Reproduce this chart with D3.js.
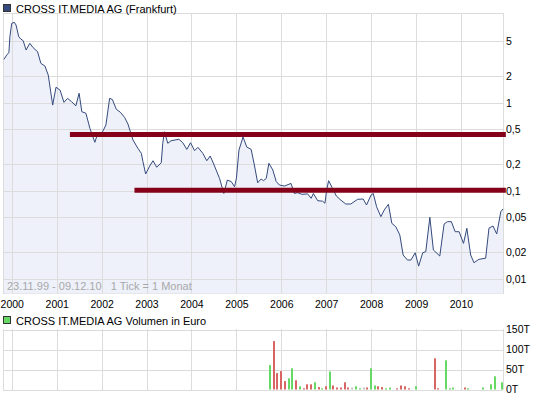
<!DOCTYPE html>
<html>
<head>
<meta charset="utf-8">
<script src="https://cdn.jsdelivr.net/npm/d3@7"></script>
<style>
  body { margin: 0; background: #fff; }
  svg { display: block; font-family: "Liberation Sans", Arial, sans-serif; font-size: 10.5px; }
</style>
</head>
<body>
<svg id="chart" width="545" height="398"></svg>
<script>
const TITLE = 'CROSS IT.MEDIA AG (Frankfurt)';
const VOLUME_TITLE = 'CROSS IT.MEDIA AG Volumen in Euro';
const FOOTER = '23.11.99 - 09.12.10   1 Tick = 1 Monat';

// closing prices in EUR
const prices = [
  ['1999-10-30', 3.11], ['1999-11-25', 3.55], ['1999-12-09', 3.70], ['1999-12-17', 5.62],
  ['2000-01-01', 7.98], ['2000-01-22', 8.20], ['2000-02-05', 7.64], ['2000-02-27', 5.62],
  ['2000-03-15', 5.29], ['2000-04-03', 5.07], ['2000-04-27', 3.97], ['2000-05-27', 4.73],
  ['2000-06-23', 4.22], ['2000-07-29', 3.80], ['2000-08-25', 2.80], ['2000-09-27', 2.61],
  ['2000-10-24', 2.06], ['2000-11-13', 1.33], ['2000-11-29', 0.94], ['2000-12-26', 1.50],
  ['2001-01-28', 1.39], ['2001-03-01', 1.01], ['2001-03-30', 1.12], ['2001-05-01', 1.03],
  ['2001-06-05', 0.92], ['2001-07-02', 1.28], ['2001-07-24', 0.79], ['2001-08-26', 0.76],
  ['2001-09-28', 0.51], ['2001-11-07', 0.355], ['2001-11-26', 0.43], ['2002-01-09', 0.468],
  ['2002-02-05', 0.558], ['2002-03-07', 1.12], ['2002-03-29', 1.09], ['2002-05-01', 0.84],
  ['2002-06-02', 0.78], ['2002-07-07', 0.68], ['2002-08-03', 0.573], ['2002-09-13', 0.377],
  ['2002-10-23', 0.303], ['2002-11-20', 0.266], ['2002-12-03', 0.214], ['2002-12-25', 0.155],
  ['2003-01-27', 0.191], ['2003-02-23', 0.219], ['2003-03-25', 0.185], ['2003-05-01', 0.208],
  ['2003-05-13', 0.346], ['2003-05-27', 0.468], ['2003-06-23', 0.346], ['2003-07-20', 0.37],
  ['2003-09-21', 0.384], ['2003-10-23', 0.351], ['2003-11-25', 0.295], ['2003-12-25', 0.351],
  ['2004-01-27', 0.285], ['2004-02-23', 0.311], ['2004-04-03', 0.266], ['2004-05-05', 0.219],
  ['2004-06-02', 0.248], ['2004-07-07', 0.191], ['2004-08-17', 0.138], ['2004-09-21', 0.093],
  ['2004-10-19', 0.132], ['2004-11-20', 0.127], ['2004-12-17', 0.111], ['2005-01-01', 0.138],
  ['2005-01-22', 0.29], ['2005-02-24', 0.408], ['2005-03-26', 0.314], ['2005-05-01', 0.295],
  ['2005-05-27', 0.196], ['2005-06-23', 0.123], ['2005-07-21', 0.136], ['2005-08-09', 0.13],
  ['2005-09-01', 0.138], ['2005-09-22', 0.205], ['2005-10-24', 0.172], ['2005-11-21', 0.127],
  ['2005-12-17', 0.116], ['2006-01-27', 0.113], ['2006-03-21', 0.121], ['2006-04-17', 0.093],
  ['2006-05-13', 0.095], ['2006-06-18', 0.091], ['2006-08-03', 0.092], ['2006-09-01', 0.082],
  ['2006-09-19', 0.093], ['2006-10-24', 0.077], ['2006-12-03', 0.076], ['2006-12-22', 0.072],
  ['2007-01-05', 0.102], ['2007-01-21', 0.13], ['2007-02-18', 0.109], ['2007-03-25', 0.087],
  ['2007-05-01', 0.078], ['2007-06-10', 0.0706], ['2007-07-20', 0.0706], ['2007-09-13', 0.0798],
  ['2007-10-29', 0.0805], ['2007-11-25', 0.0688], ['2008-01-01', 0.0893], ['2008-01-19', 0.0929],
  ['2008-02-15', 0.0658], ['2008-03-21', 0.0507], ['2008-04-17', 0.0604], ['2008-05-21', 0.07],
  ['2008-06-18', 0.0426], ['2008-07-20', 0.039], ['2008-08-22', 0.0314], ['2008-09-18', 0.0186],
  ['2008-10-23', 0.0163], ['2008-11-20', 0.0163], ['2008-12-25', 0.0197], ['2009-01-22', 0.0139],
  ['2009-02-24', 0.0197], ['2009-03-21', 0.0203], ['2009-04-23', 0.0499], ['2009-05-22', 0.0212],
  ['2009-07-13', 0.0181], ['2009-08-17', 0.0418], ['2009-09-13', 0.0445], ['2009-10-15', 0.0445],
  ['2009-11-15', 0.0342], ['2009-12-17', 0.0342], ['2010-01-22', 0.0252], ['2010-02-18', 0.0374],
  ['2010-03-21', 0.0186], ['2010-04-17', 0.0152], ['2010-05-27', 0.0166], ['2010-07-21', 0.0171],
  ['2010-08-17', 0.0376], ['2010-09-19', 0.0397], ['2010-10-19', 0.0322], ['2010-11-21', 0.0577],
  ['2010-12-09', 0.062]
];

// horizontal resistance / support lines
const levelStarts = ['2001-04-18', '2002-09-25'];
const levelValues = [0.435, 0.101];
const LEVEL_END = '2011-01-01';

// monthly volume in EUR, trend: up / down / flat
const volumeMonths = [
  '2005-10', '2005-11', '2005-12', '2006-01', '2006-02', '2006-03', '2006-04', '2006-05',
  '2006-06', '2006-07', '2006-08', '2006-09', '2006-10', '2006-11', '2006-12', '2007-01',
  '2007-02', '2007-03', '2007-04', '2007-05', '2007-06', '2007-07', '2007-08', '2007-09',
  '2007-10', '2007-11', '2007-12', '2008-01', '2008-02', '2008-03', '2008-04', '2008-05',
  '2008-06', '2008-08', '2008-09', '2008-10', '2008-11', '2009-01', '2009-06', '2009-07',
  '2009-09', '2009-10', '2009-11', '2010-02', '2010-03', '2010-07', '2010-09', '2010-10',
  '2010-12'
];
const volumeValues = [
  61000, 121000, 41000, 46000, 21000, 28000, 53000, 23000,
  8000, 3000, 13000, 13000, 18000, 6000, 3000, 8000,
  45000, 10000, 5000, 5000, 18000, 5000, 5000, 8000,
  3000, 5000, 5000, 53000, 10000, 8000, 6000, 3000,
  5000, 3000, 10000, 8000, 3000, 8000, 78000, 3000,
  73000, 3000, 5000, 5000, 3000, 5000, 13000, 33000,
  18000
];
const volumeTrend = [
  'up', 'down', 'down', 'down', 'down', 'up', 'up', 'down',
  'up', 'down', 'down', 'down', 'up', 'down', 'up', 'down',
  'up', 'down', 'down', 'down', 'down', 'down', 'flat', 'up',
  'up', 'flat', 'down', 'up', 'up', 'down', 'down', 'up',
  'up', 'down', 'down', 'down', 'down', 'up', 'down', 'down',
  'up', 'up', 'up', 'down', 'up', 'up', 'up', 'up',
  'up'
];

const priceTicks = [5, 2, 1, 0.5, 0.2, 0.1, 0.05, 0.02, 0.01];
const volumeTicks = [0, 50000, 100000, 150000];

const parseDay = d3.timeParse('%Y-%m-%d');
const parseMonth = d3.timeParse('%Y-%m');
const GRID = '#dcdcdc';
const TREND_COLOR = { up: '#66d866', down: '#d96464', flat: '#c4c4c4' };

const svg = d3.select('#chart');

const LEFT = 3, RIGHT = 503;
const x = d3.scaleTime()
  .domain([parseDay('1999-10-22'), parseDay('2010-12-09')])
  .range([LEFT, RIGHT]);
const y = d3.scaleLog().domain([0.00679, 10.46]).range([293.5, 13]);
const yVol = d3.scaleLinear().domain([0, 150000]).range([389.5, 329.5]);

const years = d3.timeYear.range(parseDay('2000-01-01'), parseDay('2011-01-01'));
const fmtComma = d => String(d).replace('.', ',');

// ---- price panel
const main = svg.append('g');

main.append('rect')
  .attr('x', LEFT + 0.5).attr('y', 13.5)
  .attr('width', RIGHT - LEFT).attr('height', 280)
  .attr('fill', '#fff').attr('stroke', GRID);

const series = prices.map(([d, v]) => ({ date: parseDay(d), value: v }));

main.append('path')
  .datum(series)
  .attr('fill', '#eef1fa')
  .attr('d', d3.area().x(d => x(d.date)).y0(y.range()[0]).y1(d => y(d.value)));

main.selectAll('.hgrid')
  .data(priceTicks)
  .join('line')
  .attr('class', 'hgrid')
  .attr('x1', LEFT).attr('x2', RIGHT)
  .attr('y1', d => Math.round(y(d)) + 0.5).attr('y2', d => Math.round(y(d)) + 0.5)
  .attr('stroke', GRID);

main.selectAll('.vgrid')
  .data(years)
  .join('line')
  .attr('class', 'vgrid')
  .attr('x1', d => Math.round(x(d)) + 0.5).attr('x2', d => Math.round(x(d)) + 0.5)
  .attr('y1', 13).attr('y2', 293.5)
  .attr('stroke', GRID);

main.append('text')
  .attr('x', 7).attr('y', 290)
  .attr('fill', '#a8a8a8')
  .style('font-size', '11px')
  .style('white-space', 'pre')
  .text(FOOTER);

main.append('path')
  .datum(series)
  .attr('fill', 'none')
  .attr('stroke', '#344a7c')
  .attr('stroke-width', 1)
  .attr('d', d3.line().x(d => x(d.date)).y(d => y(d.value)));

main.selectAll('.level')
  .data(levelValues.map((v, i) => ({ from: parseDay(levelStarts[i]), value: v })))
  .join('line')
  .attr('class', 'level')
  .attr('x1', d => x(d.from)).attr('x2', x(parseDay(LEVEL_END)))
  .attr('y1', d => y(d.value)).attr('y2', d => y(d.value))
  .attr('stroke', '#850018')
  .attr('stroke-width', 5);

main.append('g')
  .attr('transform', `translate(${RIGHT + 3},0)`)
  .call(d3.axisRight(y).tickValues(priceTicks).tickSize(0).tickPadding(0).tickFormat(fmtComma))
  .call(g => g.select('.domain').remove())
  .call(g => g.selectAll('text').attr('fill', '#000').style('font-size', '10.5px')
    .style('font-family', '"Liberation Sans", Arial, sans-serif'));

main.append('g')
  .attr('transform', 'translate(0,294)')
  .call(d3.axisBottom(x).tickValues(years).tickSize(0).tickPadding(7).tickFormat(d3.timeFormat('%Y')))
  .call(g => g.select('.domain').remove())
  .call(g => g.selectAll('text').attr('fill', '#000').style('font-size', '10.5px')
    .style('font-family', '"Liberation Sans", Arial, sans-serif'));

// ---- legends
const legend = (yPos, color, label) => {
  svg.append('rect')
    .attr('x', 3.5).attr('y', yPos - 8.5)
    .attr('width', 7).attr('height', 7)
    .attr('fill', color).attr('stroke', '#333');
  svg.append('text')
    .attr('x', 16).attr('y', yPos)
    .attr('fill', '#000')
    .style('font-size', '11px')
    .text(label);
};
legend(13, '#344a7c', TITLE);
legend(325, '#66d866', VOLUME_TITLE);

// ---- volume panel
const vol = svg.append('g');

vol.selectAll('.vhgrid')
  .data(volumeTicks)
  .join('line')
  .attr('class', 'vhgrid')
  .attr('x1', LEFT).attr('x2', RIGHT)
  .attr('y1', d => Math.round(yVol(d)) + 0.5).attr('y2', d => Math.round(yVol(d)) + 0.5)
  .attr('stroke', GRID);

vol.selectAll('.vvgrid')
  .data([parseDay('1999-10-22')].concat(years, [parseDay('2010-12-09')]))
  .join('line')
  .attr('class', 'vvgrid')
  .attr('x1', d => Math.round(x(d)) + 0.5).attr('x2', d => Math.round(x(d)) + 0.5)
  .attr('y1', 329).attr('y2', 390)
  .attr('stroke', GRID);

vol.selectAll('.bar')
  .data(volumeMonths.map((m, i) => ({ date: parseMonth(m), value: volumeValues[i], trend: volumeTrend[i] })))
  .join('rect')
  .attr('class', 'bar')
  .attr('x', d => Math.round(x(d.date)) - 1)
  .attr('y', d => yVol(d.value))
  .attr('width', 2)
  .attr('height', d => yVol(0) - yVol(d.value))
  .attr('fill', d => TREND_COLOR[d.trend]);

vol.append('g')
  .attr('transform', `translate(${RIGHT + 3},0)`)
  .call(d3.axisRight(yVol).tickValues(volumeTicks).tickSize(0).tickPadding(0)
    .tickFormat(d => (d / 1000) + 'T'))
  .call(g => g.select('.domain').remove())
  .call(g => g.selectAll('text').attr('fill', '#000').style('font-size', '10.5px')
    .style('font-family', '"Liberation Sans", Arial, sans-serif'));
</script>
</body>
</html>
